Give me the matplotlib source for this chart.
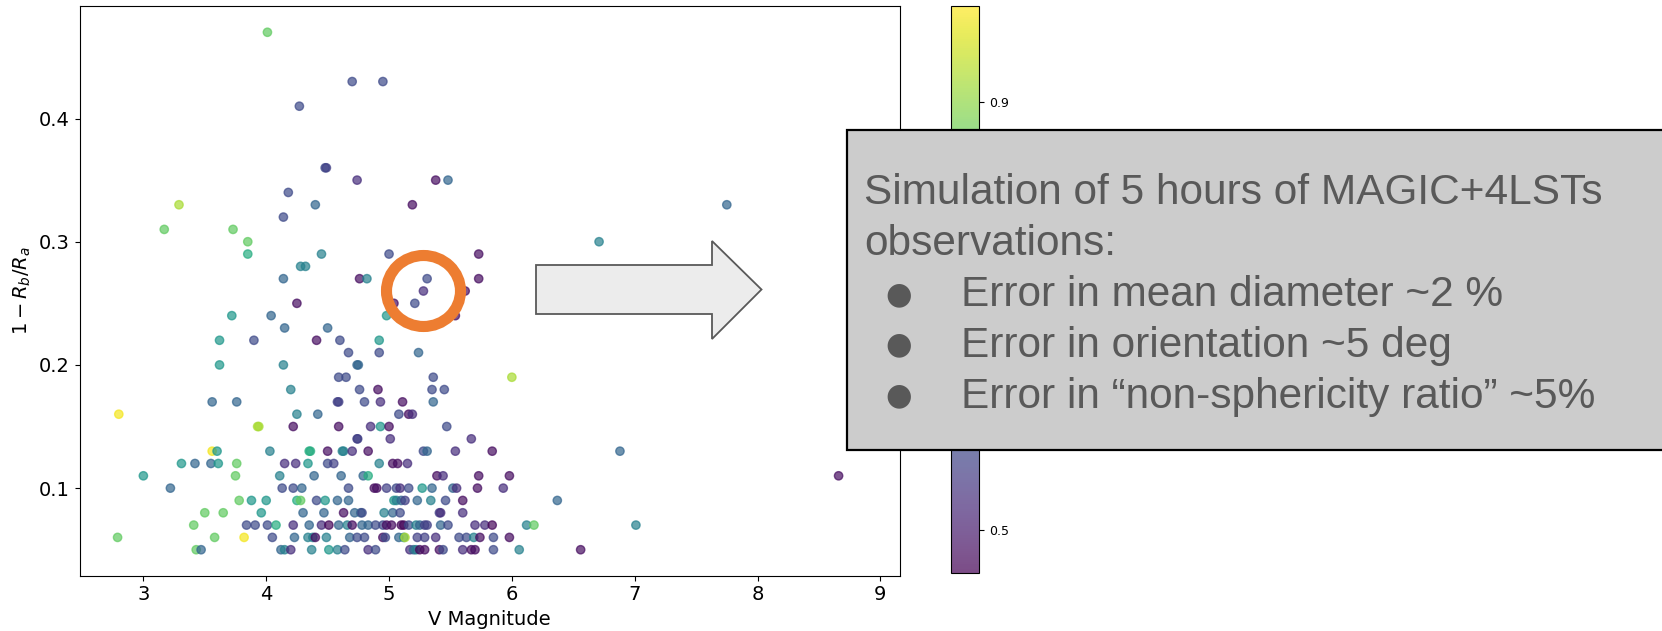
import matplotlib
matplotlib.use("Agg")
import matplotlib.pyplot as plt
from matplotlib.patches import Polygon, Rectangle, Ellipse
import numpy as np

# colour levels (colorbar value)
DP, P, PS, DB, BS, TB, T, TG, G, LG, YG, Y = (0.47, 0.48, 0.53, 0.56, 0.58, 0.63,
                                              0.69, 0.74, 0.79, 0.86, 0.92, 0.98)

# V magnitude, 1 - Rb/Ra, colour value
v_mag = [
    4.01, 4.70, 4.95, 4.27, 4.48, 4.49, 4.74, 5.38, 5.48, 4.18,
    3.29, 4.40, 5.19, 7.75, 4.14, 3.17, 3.73, 3.85, 6.71,
    3.85, 4.45, 5.00, 5.73, 4.28, 4.32,
    4.14, 4.76, 4.82, 5.31, 5.73, 5.28, 5.62, 4.25, 5.04, 5.21,
    3.72, 4.04, 4.98, 5.54, 4.15, 4.50,
    3.62, 3.90, 4.41, 4.60, 4.92, 4.67, 4.92, 5.24,
    3.62, 4.14, 4.74, 4.75, 4.59, 4.65, 5.36, 6.00,
    4.20, 4.76, 4.91, 5.35, 5.45,
    3.56, 3.76, 4.58, 4.59, 4.80, 4.93, 5.11, 5.36,
    2.80, 4.25, 4.42, 5.08, 5.16, 5.19,
    3.93, 3.94, 4.22, 4.59, 4.85, 4.93, 5.00, 5.47,
    4.74, 4.745, 5.01, 5.67,
    3.56, 3.60, 4.03, 4.35, 4.36, 4.50, 4.62, 4.63, 4.70, 4.83, 5.28, 5.31, 5.54, 5.84, 6.88,
    3.31, 3.42, 3.55, 3.61, 3.76, 4.15, 4.24, 4.34, 4.50, 4.55, 4.92, 5.03, 5.07, 5.15,
    3.00, 3.75, 4.11, 4.39, 4.61, 4.79, 4.83, 5.39, 5.44, 5.73, 5.98, 8.66,
    3.22, 4.13, 4.22, 4.29, 4.67, 4.88, 4.90, 4.98, 5.06, 5.09, 5.16, 5.27, 5.35, 5.52,
    5.55, 5.72, 5.93,
    3.78, 3.88, 4.00, 4.25, 4.28, 4.41, 4.48, 4.58, 4.67, 5.04, 5.06, 5.10, 5.13, 5.23,
    5.34, 5.46, 5.60, 6.37,
    3.50, 3.65, 3.96, 4.30, 4.47, 4.63, 4.72, 4.77, 4.78, 4.96, 5.03, 5.09, 5.41, 5.42, 5.60,
    3.41, 3.84, 3.91, 4.01, 4.08, 4.22, 4.35, 4.45, 4.51, 4.59, 4.66, 4.70, 4.78, 4.83,
    4.89, 4.95, 4.98, 5.02, 5.10, 5.12, 5.16, 5.22, 5.25, 5.29, 5.31, 5.42, 5.48, 5.70,
    5.78, 5.84, 6.12, 6.18, 7.01,
    2.79, 3.58, 3.82, 4.05, 4.23, 4.34, 4.38, 4.40, 4.49, 4.68, 4.74, 4.80, 4.95, 4.97,
    5.08, 5.12, 5.13, 5.23, 5.29, 5.38, 5.57, 5.63, 5.69, 5.74, 5.85, 5.98,
    3.43, 3.47, 4.12, 4.15, 4.20, 4.37, 4.51, 4.58, 4.64, 4.83, 4.89, 5.17, 5.20, 5.22,
    5.25, 5.29, 5.41, 5.44, 5.60, 5.67, 5.70, 5.85, 6.06, 6.56,
]
ratio = [
    0.47, 0.43, 0.43, 0.41, 0.36, 0.36, 0.35, 0.35, 0.35, 0.34,
    0.33, 0.33, 0.33, 0.33, 0.32, 0.31, 0.31, 0.30, 0.30,
    0.29, 0.29, 0.29, 0.29, 0.28, 0.28,
    0.27, 0.27, 0.27, 0.27, 0.27, 0.26, 0.26, 0.25, 0.25, 0.25,
    0.24, 0.24, 0.24, 0.24, 0.23, 0.23,
    0.22, 0.22, 0.22, 0.22, 0.22, 0.21, 0.21, 0.21,
    0.20, 0.20, 0.20, 0.20, 0.19, 0.19, 0.19, 0.19,
    0.18, 0.18, 0.18, 0.18, 0.18,
    0.17, 0.17, 0.17, 0.17, 0.17, 0.17, 0.17, 0.17,
    0.16, 0.16, 0.16, 0.16, 0.16, 0.16,
    0.15, 0.15, 0.15, 0.15, 0.15, 0.15, 0.15, 0.15,
    0.14, 0.14, 0.14, 0.14,
    0.13, 0.13, 0.13, 0.13, 0.13, 0.13, 0.13, 0.13, 0.13, 0.13, 0.13, 0.13, 0.13, 0.13, 0.13,
    0.12, 0.12, 0.12, 0.12, 0.12, 0.12, 0.12, 0.12, 0.12, 0.12, 0.12, 0.12, 0.12, 0.12,
    0.11, 0.11, 0.11, 0.11, 0.11, 0.11, 0.11, 0.11, 0.11, 0.11, 0.11, 0.11,
    0.10, 0.10, 0.10, 0.10, 0.10, 0.10, 0.10, 0.10, 0.10, 0.10, 0.10, 0.10, 0.10, 0.10,
    0.10, 0.10, 0.10,
    0.09, 0.09, 0.09, 0.09, 0.09, 0.09, 0.09, 0.09, 0.09, 0.09, 0.09, 0.09, 0.09, 0.09,
    0.09, 0.09, 0.09, 0.09,
    0.08, 0.08, 0.08, 0.08, 0.08, 0.08, 0.08, 0.08, 0.08, 0.08, 0.08, 0.08, 0.08, 0.08, 0.08,
    0.07, 0.07, 0.07, 0.07, 0.07, 0.07, 0.07, 0.07, 0.07, 0.07, 0.07, 0.07, 0.07, 0.07,
    0.07, 0.07, 0.07, 0.07, 0.07, 0.07, 0.07, 0.07, 0.07, 0.07, 0.07, 0.07, 0.07, 0.07,
    0.07, 0.07, 0.07, 0.07, 0.07,
    0.06, 0.06, 0.06, 0.06, 0.06, 0.06, 0.06, 0.06, 0.06, 0.06, 0.06, 0.06, 0.06, 0.06,
    0.06, 0.06, 0.06, 0.06, 0.06, 0.06, 0.06, 0.06, 0.06, 0.06, 0.06, 0.06,
    0.05, 0.05, 0.05, 0.05, 0.05, 0.05, 0.05, 0.05, 0.05, 0.05, 0.05, 0.05, 0.05, 0.05,
    0.05, 0.05, 0.05, 0.05, 0.05, 0.05, 0.05, 0.05, 0.05, 0.05,
]
cval = [
    LG, BS, BS, BS, BS, DB, PS, P, TB, BS,
    YG, TB, P, TB, BS, LG, LG, LG, T,
    G, T, BS, P, T, T,
    TB, P, T, BS, P, PS, P, P, P, BS,
    TG, TB, TG, P, TB, TB,
    TG, BS, P, BS, TG, BS, BS, TB,
    TG, T, TB, TB, BS, BS, BS, YG,
    T, BS, P, BS, BS,
    TB, TB, DB, DB, BS, PS, P, TB,
    Y, T, TB, BS, P, PS,
    YG, YG, P, P, PS, TG, P, BS,
    DB, DB, PS, PS,
    Y, TG, T, G, G, P, T, T, PS, P, BS, TB, PS, P, TB,
    TG, TB, TB, TG, LG, PS, PS, TG, BS, DB, T, P, P, PS,
    TG, LG, T, TB, TB, TB, G, P, PS, P, P, P,
    TB, BS, BS, TB, BS, P, P, DB, BS, PS, BS, TG, TB, TB,
    PS, P, PS,
    LG, TG, TG, G, LG, BS, TG, TB, TB, TG, T, TB, DB, TB,
    T, BS, P, TB,
    LG, LG, TG, TB, TB, P, TB, TB, BS, T, TB, BS, DB, PS, PS,
    LG, BS, BS, BS, G, PS, TB, PS, DP, TB, T, P, TB, TB,
    BS, BS, P, P, DP, DP, BS, T, TB, DB, DB, TB, BS, PS,
    PS, DP, T, LG, T,
    LG, LG, Y, BS, TB, T, T, P, T, TB, BS, BS, P, BS,
    TB, T, YG, DB, DB, PS, BS, BS, T, P, BS, P,
    LG, TB, TB, T, PS, T, TG, T, BS, PS, BS, PS, TB, T,
    DP, P, P, BS, PS, P, P, BS, T, P,
]

W, H = 1662, 631


def fx(x):
    return x / W


def fy(y):
    return 1 - y / H


fig = plt.figure(figsize=(W / 100, H / 100), dpi=100)
ax = fig.add_axes([fx(79.5), fy(575.6), fx(900) - fx(79.5), fy(6.4) - fy(575.6)])

sc = ax.scatter(v_mag, ratio, c=cval, cmap="viridis", vmin=0.46, vmax=0.99,
                alpha=0.7, s=36)
ax.set_xlim(2.48, 9.16)
ax.set_ylim(0.029, 0.491)
ax.set_xticks([3, 4, 5, 6, 7, 8, 9])
ax.set_yticks([0.1, 0.2, 0.3, 0.4])
ax.tick_params(labelsize=14)
ax.set_xlabel("V Magnitude", fontsize=14)
ax.set_ylabel(r"$1 - R_b/R_a$", fontsize=14)

cax = fig.add_axes([fx(951), fy(573), fx(28), fy(6) - fy(573)])
cb = fig.colorbar(sc, cax=cax)
# 0.6-0.8 sit behind the grey box
cb.set_ticks([0.5, 0.9])
cb.ax.tick_params(labelsize=9)

# orange ring
ring = Ellipse((fx(423.5), fy(291)), fx(74), fy(0) - fy(71), fill=False,
               edgecolor="#ED7D31", linewidth=8, transform=fig.transFigure, zorder=2)
fig.patches.append(ring)

# block arrow
arrow_px = [(536, 265), (712, 265), (712, 241), (761.5, 289.5), (712, 339),
            (712, 314), (536, 314)]
arrow = Polygon([(fx(a), fy(b)) for a, b in arrow_px], closed=True,
                facecolor="#ececec", edgecolor="#595959", linewidth=1.3,
                transform=fig.transFigure, zorder=2)
fig.patches.append(arrow)

# grey box with text
box = Rectangle((fx(847), fy(450)), fx(900), fy(130) - fy(450),
                facecolor="#cccccc", edgecolor="black", linewidth=1.6,
                transform=fig.transFigure, zorder=4)
fig.patches.append(box)

txt_col = "#595959"
fam = ["Liberation Sans", "DejaVu Sans"]
fig.text(fx(864), fy(193), "Simulation of 5 hours of MAGIC+4LSTs", fontsize=30.5,
         color=txt_col, va="center", ha="left", family=fam, zorder=5)
fig.text(fx(864), fy(244), "observations:", fontsize=30.5,
         color=txt_col, va="center", ha="left", family=fam, zorder=5)
bullets = ["Error in mean diameter ~2 %",
           "Error in orientation ~5 deg",
           "Error in \u201cnon-sphericity ratio\u201d ~5%"]
for i, line in enumerate(bullets):
    yy = 295.5 + i * 50.8
    fig.text(fx(899), fy(yy - 1), "\u25cf", fontsize=22, color=txt_col,
             va="center", ha="center", family="DejaVu Sans", zorder=5)
    fig.text(fx(961), fy(yy), line, fontsize=30.5, color=txt_col,
             va="center", ha="left", family=fam, zorder=5)

fig.savefig("out.png", dpi=100)
